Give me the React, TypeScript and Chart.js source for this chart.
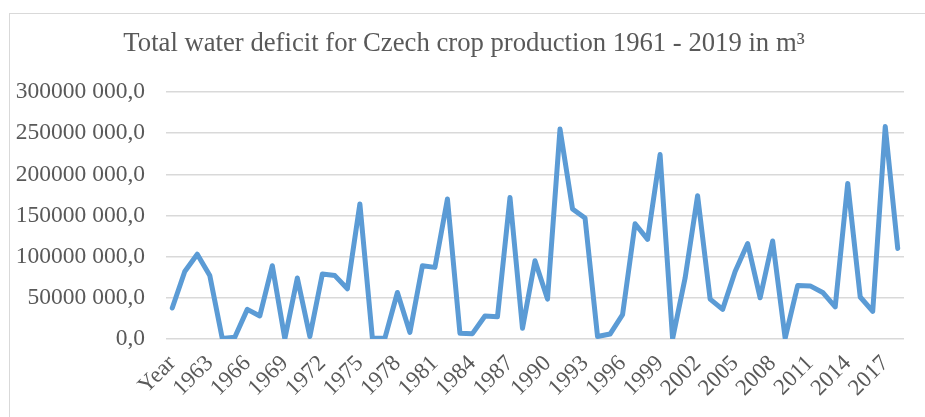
import React, { useEffect, useRef } from "react";
import { Chart, registerables } from "chart.js";

Chart.register(...registerables);

const categories = [
  "Year", "1961", "1962", "1963", "1964", "1965", "1966", "1967", "1968", "1969",
  "1970", "1971", "1972", "1973", "1974", "1975", "1976", "1977", "1978", "1979",
  "1980", "1981", "1982", "1983", "1984", "1985", "1986", "1987", "1988", "1989",
  "1990", "1991", "1992", "1993", "1994", "1995", "1996", "1997", "1998", "1999",
  "2000", "2001", "2002", "2003", "2004", "2005", "2006", "2007", "2008", "2009",
  "2010", "2011", "2012", "2013", "2014", "2015", "2016", "2017", "2018",
];

const deficit = [
  37600000, 82000000, 103000000, 77000000, 500000, 2000000, 36000000, 28000000, 89000000, 300000,
  74000000, 3000000, 79000000, 77000000, 61000000, 164000000, 1000000, 1000000, 56500000, 8000000,
  89000000, 87000000, 170000000, 7000000, 6500000, 28000000, 27000000, 172000000, 13000000, 95000000,
  48500000, 255000000, 158000000, 147000000, 3000000, 6000000, 29500000, 140000000, 121000000, 224000000,
  300000, 74000000, 174000000, 48500000, 36000000, 82000000, 116000000, 50000000, 119000000, 1000000,
  65000000, 64500000, 56500000, 39000000, 189000000, 51000000, 33500000, 258000000, 110000000,
];

const yTickLabels = [
  "0,0", "50000 000,0", "100000 000,0", "150000 000,0", "200000 000,0", "250000 000,0", "300000 000,0",
];

const titleText = "Total water deficit for Czech crop production 1961 - 2019 in m³";

const FONT = "'Liberation Serif', 'Times New Roman', serif";
const TEXT_COLOR = "#595959";
const GRID_COLOR = "#d9d9d9";
const LINE_COLOR = "#5b9bd5";

const titlePlugin = {
  id: "pageTitle",
  afterDraw(chart: any) {
    const ctx = chart.ctx;
    ctx.save();
    ctx.font = `normal 26.7px ${FONT}`;
    ctx.fillStyle = TEXT_COLOR;
    ctx.textAlign = "center";
    ctx.textBaseline = "middle";
    ctx.fillText(titleText, chart.width / 2 + 1.5, 44);
    ctx.restore();
  },
};

export default function App() {
  const ref = useRef<HTMLCanvasElement>(null);

  useEffect(() => {
    document.body.style.margin = "0";
    const chart = new Chart(ref.current as HTMLCanvasElement, {
      type: "line",
      data: {
        labels: categories,
        datasets: [
          {
            data: deficit,
            borderColor: LINE_COLOR,
            backgroundColor: LINE_COLOR,
            borderWidth: 5,
            pointRadius: 0,
            tension: 0,
            borderJoinStyle: "round",
            borderCapStyle: "round",
          },
        ],
      },
      plugins: [titlePlugin],
      options: {
        animation: false,
        responsive: false,
        maintainAspectRatio: false,
        layout: { padding: { left: 0, right: 21, top: 92, bottom: 0 } },
        plugins: {
          legend: { display: false },
          tooltip: { enabled: false },
          title: { display: false },
        },
        scales: {
          x: {
            offset: true,
            grid: { display: false },
            border: { display: false },
            ticks: {
              autoSkip: false,
              minRotation: 45,
              maxRotation: 45,
              padding: 3,
              color: TEXT_COLOR,
              font: { family: FONT, size: 23 },
              callback: (_v: any, i: number) => (i % 3 === 0 ? categories[i] : ""),
            },
            afterFit: (s: any) => {
              s.height = 78;
            },
          },
          y: {
            min: 0,
            max: 300000000,
            ticks: {
              stepSize: 50000000,
              padding: 21,
              color: TEXT_COLOR,
              font: { family: FONT, size: 23.5 },
              callback: (v: any) => yTickLabels[Math.round(Number(v) / 50000000)],
            },
            grid: { color: GRID_COLOR, lineWidth: 1.5, drawTicks: false },
            border: { display: false },
            afterFit: (s: any) => {
              s.width = 166;
            },
          },
        },
      },
    } as any);
    return () => chart.destroy();
  }, []);

  return (
    <div style={{ position: "relative", width: 925, height: 417, background: "#fff" }}>
      <div
        style={{
          position: "absolute",
          left: 9,
          top: 13,
          right: 0,
          bottom: 0,
          borderLeft: `1.5px solid ${GRID_COLOR}`,
          borderTop: `1.5px solid ${GRID_COLOR}`,
        }}
      />
      <canvas ref={ref} width={925} height={417} style={{ position: "absolute", left: 0, top: 0 }} />
    </div>
  );
}
